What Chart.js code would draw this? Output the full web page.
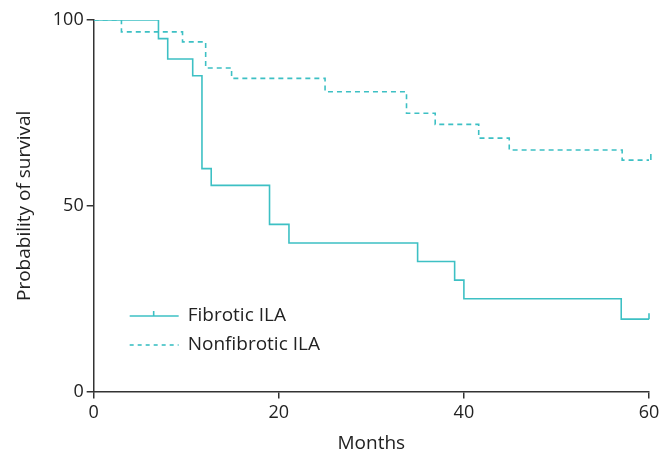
<!DOCTYPE html>
<html>
<head>
<meta charset="utf-8">
<script src="https://cdn.jsdelivr.net/npm/chart.js@4"></script>
<style>
  html, body { margin: 0; padding: 0; background: #fff; }
  #wrap { width: 672px; height: 455px; }
</style>
</head>
<body>
<div id="wrap"><canvas id="kmChart" width="672" height="455"></canvas></div>
<script>
// 생존 곡선 데이터 (개월, 생존 확률 %)
const fibroticMonths = [0, 7, 8, 10.7, 11.7, 12.7, 19, 21.1, 35, 39, 40, 57, 60];
const fibroticSurvival = [100, 95, 89.5, 85, 60, 55.5, 45, 40, 35, 30, 25, 19.5, 19.5];
const fibroticCensored = [60];

const nonfibroticMonths = [0, 3, 9.6, 12.1, 14.9, 25, 33.8, 36.9, 41.6, 44.9, 57.1, 60.2];
const nonfibroticSurvival = [100, 96.8, 94.1, 87.1, 84.3, 80.7, 74.9, 71.9, 68.2, 65, 62.3, 62.3];
const nonfibroticCensored = [60.2];

const xTicks = [0, 20, 40, 60];
const yTicks = [0, 50, 100];
const seriesNames = ['Fibrotic ILA', 'Nonfibrotic ILA'];

const teal = '#3dc0c4';
const axisColor = '#333333';
const fontFamily = '"Open Sans", sans-serif';
const tickFont = { family: fontFamily, size: 18 };
const labelFont = { family: fontFamily, size: 19 };

function toPoints(xs, ys) {
    return xs.map((x, i) => ({ x: x, y: ys[i] }));
}

// 중도절단 표시 + 범례 그리기
const kmExtras = {
    id: 'kmExtras',
    afterDatasetsDraw(chart) {
        const ctx = chart.ctx;
        const xs = chart.scales.x;
        const ys = chart.scales.y;
        ctx.save();
        ctx.strokeStyle = teal;
        ctx.lineWidth = 1.6;
        ctx.setLineDash([]);
        const marks = [
            [fibroticCensored, fibroticMonths, fibroticSurvival],
            [nonfibroticCensored, nonfibroticMonths, nonfibroticSurvival]
        ];
        marks.forEach(([cens, mx, sy]) => {
            cens.forEach(t => {
                let s = sy[0];
                mx.forEach((m, i) => { if (m <= t) s = sy[i]; });
                const px = xs.getPixelForValue(t);
                const py = ys.getPixelForValue(s);
                ctx.beginPath();
                ctx.moveTo(px, py);
                ctx.lineTo(px, py - 6);
                ctx.stroke();
            });
        });

        // 범례
        const area = chart.chartArea;
        const lx = area.left + 36;
        const ly = [316, 345];
        ctx.font = labelFont.size + 'px ' + fontFamily;
        ctx.textBaseline = 'middle';
        ctx.fillStyle = '#222';
        seriesNames.forEach((name, i) => {
            ctx.beginPath();
            ctx.lineWidth = 1.6;
            ctx.setLineDash(i === 0 ? [] : [4, 4]);
            ctx.moveTo(lx, ly[i]);
            ctx.lineTo(lx + 49, ly[i]);
            ctx.stroke();
            if (i === 0) {
                ctx.setLineDash([]);
                ctx.beginPath();
                ctx.moveTo(lx + 24, ly[i]);
                ctx.lineTo(lx + 24, ly[i] - 5);
                ctx.stroke();
            }
            ctx.fillText(name, lx + 58, ly[i]);
        });
        ctx.restore();
    }
};

new Chart(document.getElementById('kmChart'), {
    type: 'line',
    data: {
        datasets: [{
            label: seriesNames[0],
            data: toPoints(fibroticMonths, fibroticSurvival),
            borderColor: teal,
            borderWidth: 1.6,
            stepped: true,
            pointRadius: 0,
            fill: false
        }, {
            label: seriesNames[1],
            data: toPoints(nonfibroticMonths, nonfibroticSurvival),
            borderColor: teal,
            borderWidth: 1.6,
            borderDash: [5, 4],
            stepped: true,
            pointRadius: 0,
            fill: false
        }]
    },
    options: {
        responsive: false,
        animation: false,
        layout: { padding: { top: 20, right: 23, left: 13, bottom: 0 } },
        plugins: {
            legend: { display: false },
            tooltip: { enabled: false }
        },
        scales: {
            x: {
                type: 'linear',
                min: 0,
                max: 60,
                afterBuildTicks: axis => { axis.ticks = xTicks.map(v => ({ value: v })); },
                grid: { display: true, drawOnChartArea: false, drawTicks: true, tickLength: 7, color: axisColor, lineWidth: 1.5 },
                border: { color: axisColor, width: 1.5 },
                ticks: { color: '#222', font: tickFont, padding: 3, maxRotation: 0 },
                title: { display: true, text: 'Months', color: '#222', font: labelFont, padding: { top: 6, bottom: 0 } }
            },
            y: {
                min: 0,
                max: 100,
                afterBuildTicks: axis => { axis.ticks = yTicks.map(v => ({ value: v })); },
                grid: { display: true, drawOnChartArea: false, drawTicks: true, tickLength: 7, color: axisColor, lineWidth: 1.5 },
                border: { color: axisColor, width: 1.5 },
                ticks: { color: '#222', font: tickFont, padding: 3 },
                title: { display: true, text: 'Probability of survival', color: '#222', font: labelFont, padding: { top: 0, bottom: 14 } }
            }
        }
    },
    plugins: [kmExtras]
});
</script>
</body>
</html>
